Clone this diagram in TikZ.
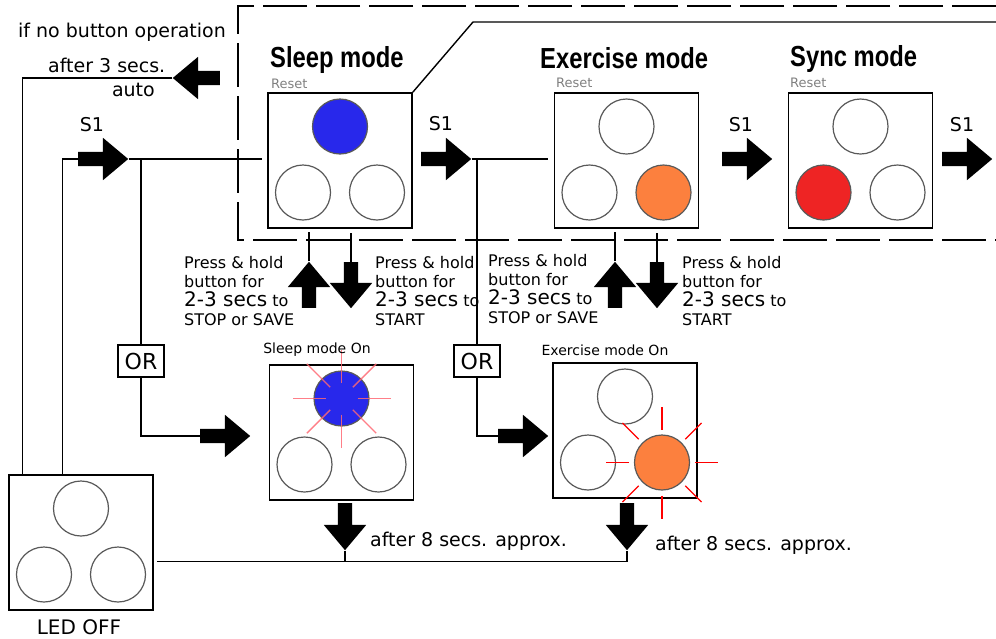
\documentclass[tikz,border=0pt]{standalone}
\usepackage{fontspec}
\setmainfont{DejaVu Sans}
\newfontfamily\titlefont[FakeStretch=0.82]{Liberation Sans Bold}
\usetikzlibrary{shapes.arrows,calc}

\definecolor{ledblue}{RGB}{40,40,235}
\definecolor{ledorange}{RGB}{252,128,62}
\definecolor{ledred}{RGB}{238,36,36}
\definecolor{raypink}{RGB}{255,105,115}

\tikzset{
  panel/.style={draw, line width=1.6pt, minimum width=144pt, minimum height=135pt, inner sep=0pt},
  led/.style={circle, draw=black!65, line width=1.2pt, minimum size=55pt, inner sep=0pt},
  wire/.style={line width=1.4pt},
  frame/.style={line width=1.6pt, dash pattern=on 44pt off 9pt},
  barrow/.style={single arrow, fill=black, inner sep=7pt, minimum height=50pt,
    single arrow head extend=14pt, single arrow tip angle=80, anchor=tail},
  ray/.style={red, line width=1.1pt},
  title/.style={font=\titlefont\fontsize{29}{32}\selectfont, inner sep=0pt},
  reset/.style={font=\fontsize{13}{14}\selectfont, text=black!50, inner sep=0pt, anchor=base west},
  note/.style={font=\fontsize{19}{22}\selectfont, inner sep=0pt},
  press/.style={font=\fontsize{16}{19}\selectfont, align=left, anchor=north west, inner sep=0pt},
  orbox/.style={draw, line width=1.2pt, minimum width=46pt, minimum height=32pt, inner sep=0pt,
    font=\fontsize{22}{24}\selectfont}
}

% one panel of three LEDs: name, centre, top fill, left fill, right fill
\newcommand{\ledpanel}[5]{%
  \node[panel] (#1) at (#2) {};
  \node[led, fill=#3] (#1-t) at ($(#1)+(0,-34)$) {};
  \node[led, fill=#4] (#1-l) at ($(#1)+(-37,32)$) {};
  \node[led, fill=#5] (#1-r) at ($(#1)+(37,32)$) {};
}
\newcommand{\twothree}{{\fontsize{20}{20}\selectfont 2-3 secs}}

\begin{document}
\begin{tikzpicture}[x=1pt, y=-1pt]
\useasboundingbox (0,0) rectangle (996,638);

% dashed frame
\draw[frame] (996,6) -- (238,6) -- (238,240) -- (996,240);

% mode panels
\ledpanel{sleep}{340,160.5}{ledblue}{white}{white}
\ledpanel{exer}{626.5,160.5}{white}{white}{ledorange}
\ledpanel{sync}{860.5,160.5}{white}{ledred}{white}
\ledpanel{son}{341.5,432.5}{ledblue}{white}{white}
\ledpanel{eon}{625,430.5}{white}{white}{ledorange}
\ledpanel{off}{81,542.5}{white}{white}{white}

\draw[wire] (sleep.north east) -- (473,22) -- (996,22);

% blinking rays
\foreach \a in {0,45,...,315}
  \draw[ray, raypink, line width=1.4pt, opacity=0.85] ($(son-t)+(\a:16)$) -- ($(son-t)+(\a:49)$);
\foreach \a in {0,45,...,315}
  \draw[ray] ($(eon-r)+(\a:33)$) -- ($(eon-r)+(\a:56)$);

% titles
\node[title, anchor=base west] (t-sleep) at (270,67) {Sleep mode};
\node[title, anchor=base west] (t-exer) at (540,68) {Exercise mode};
\node[title, anchor=base west] (t-sync) at (790,66) {Sync mode};
\node[reset] (r-sleep) at (271,88) {Reset};
\node[reset] (r-exer) at (556,87) {Reset};
\node[reset] (r-sync) at (790,87) {Reset};

% S1 arrows
\node[barrow] (s1a) at (78,159) {};
\node[barrow] (s1b) at (421,159) {};
\node[barrow] (s1c) at (722,159) {};
\node[barrow] (s1d) at (942,159) {};
\node[note] (s1a-l) at (92,125) {S1};
\node[note] (s1b-l) at (441,124) {S1};
\node[note] (s1c-l) at (741,125) {S1};
\node[note] (s1d-l) at (962,125) {S1};

% auto return
\node[barrow, shape border rotate=180, minimum height=47pt] (autoarr) at (220,78) {};
\node[note, anchor=west] (nobtn) at (18,32) {if no button operation};
\node[note, anchor=west] (after3) at (48,65) {after 3 secs.};
\node[note, anchor=east] (autolbl) at (155,90) {auto};

% press and hold
\node[barrow, shape border rotate=90, minimum height=46pt] (sl-up) at (309,308) {};
\node[barrow, shape border rotate=270, minimum height=46pt] (sl-dn) at (351,262) {};
\node[barrow, shape border rotate=90, minimum height=46pt] (ex-up) at (615,308) {};
\node[barrow, shape border rotate=270, minimum height=46pt] (ex-dn) at (657,262) {};
\draw[wire] (sl-up.tip) -- ++(0,-29);
\draw[wire] (sl-dn.tail) -- ++(0,-29);
\draw[wire] (ex-up.tip) -- ++(0,-29);
\draw[wire] (ex-dn.tail) -- ++(0,-29);
\node[press] (p-sl-stop) at (184,256) {Press \& hold\\button for\\\twothree\ to\\STOP or SAVE};
\node[press] (p-sl-start) at (375,256) {Press \& hold\\button for\\\twothree\ to\\START};
\node[press] (p-ex-stop) at (488,254) {Press \& hold\\button for\\\twothree\ to\\STOP or SAVE};
\node[press] (p-ex-start) at (682,256) {Press \& hold\\button for\\\twothree\ to\\START};

% OR branches
\node[orbox] (or1) at (141,361) {OR};
\node[orbox] (or2) at (477,361) {OR};
\node[barrow] (or-sl) at (200,436) {};
\node[barrow] (or-ex) at (498,436) {};
\coordinate (j1) at (or1 |- s1a.tip);
\coordinate (j2) at (or2 |- s1b.tip);
\draw[wire] (s1a.tip) -- ([xshift=-5pt]s1a.tip -| sleep.west);
\draw[wire] (s1b.tip) -- ([xshift=-6pt]s1b.tip -| exer.west);
\draw[wire] (j1) -- (or1.north);
\draw[wire] (or1.south) |- (or-sl.tail);
\draw[wire] (j2) -- (or2.north);
\draw[wire] (or2.south) |- (or-ex.tail);
\node[font=\fontsize{14}{16}\selectfont] (l-son) at (317,350) {Sleep mode On};
\node[font=\fontsize{14}{16}\selectfont] (l-eon) at (605,350) {Exercise mode On};

% back to LED OFF
\coordinate (off-a) at ([xshift=14pt]off.north west);
\coordinate (off-b) at ([xshift=54pt]off.north west);
\draw[wire] (autoarr.tip) -| (off-a);
\draw[wire] (s1a.tail) -| (off-b);
\node[font=\fontsize{20}{22}\selectfont, inner sep=0pt, anchor=base] (l-off) at (79,634) {LED OFF};

\node[barrow, shape border rotate=270, minimum height=47pt] (w-sl) at (345,503) {};
\node[barrow, shape border rotate=270, minimum height=47pt] (w-ex) at (627,503) {};
\coordinate (ret) at ($(w-ex.tip)+(0,11)$);
\draw[wire] ([xshift=3pt]off.east |- ret) -- (ret) -- (w-ex.tip);
\draw[wire] (w-sl.tip) -- (w-sl.tip |- ret);
\node[note, anchor=west] (a8-sl) at (370,541) {after 8 secs. approx.};
\node[note, anchor=west] (a8-ex) at (655,545) {after 8 secs. approx.};
\end{tikzpicture}
\end{document}
